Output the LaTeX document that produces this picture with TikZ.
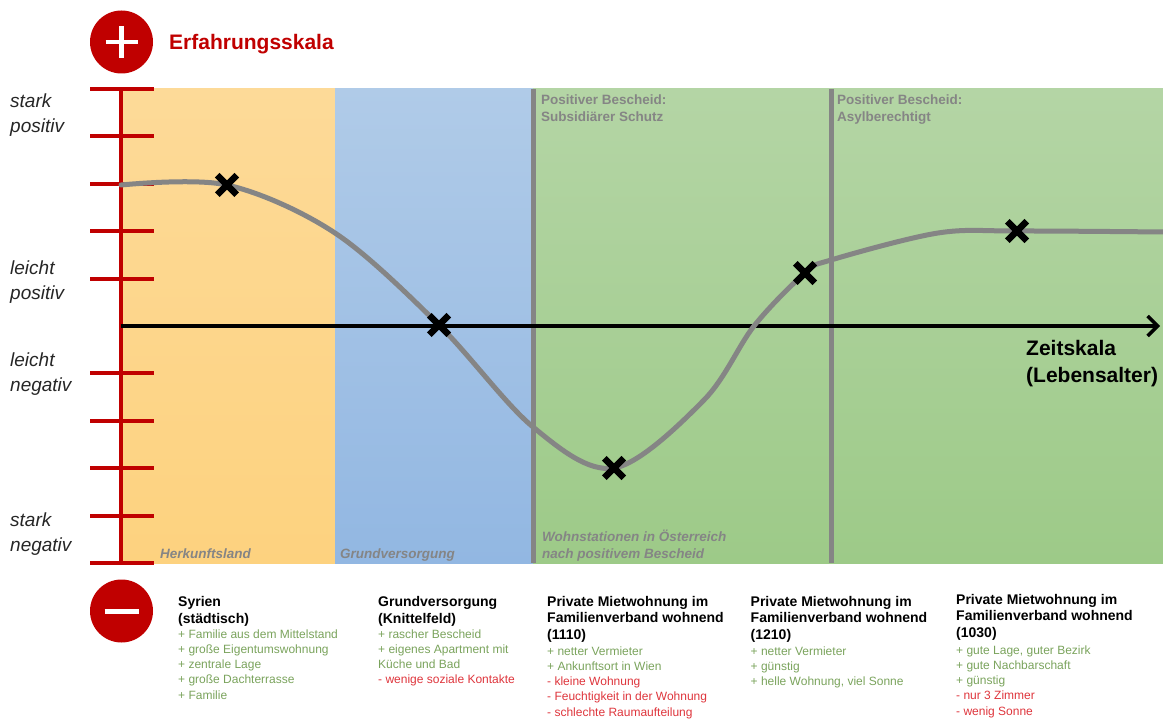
\documentclass[tikz,border=0pt]{standalone}
\usepackage{fontspec}
\setmainfont{Liberation Sans}
\usetikzlibrary{arrows.meta,shapes.misc}
\definecolor{skalared}{HTML}{C00000}
\definecolor{posgreen}{HTML}{7AA35C}
\definecolor{negred}{HTML}{DE353C}
\definecolor{linegray}{HTML}{858585}
\definecolor{labelgray}{HTML}{858585}
\begin{document}
\begin{tikzpicture}[x=1pt, y=-1pt]
		\tikzstyle{every node}=[inner sep=0pt, align=left]
		\tikzstyle{skalastrich}=[draw=skalared, line width=4pt]
		\tikzstyle{trenner}=[draw=linegray, line width=5pt]
		\tikzstyle{verlauf}=[draw=linegray, line width=5pt, line cap=round]
		\tikzstyle{kreuz}=[cross out, draw=black, line width=6.5pt, minimum size=13pt]
		\tikzstyle{phase}=[anchor=base west, text=labelgray, font=\fontsize{13.5}{17}\selectfont\bfseries]
		\tikzstyle{ort}=[anchor=base west, text=labelgray, font=\fontsize{13.5}{17}\selectfont\bfseries\itshape]
		\tikzstyle{stufe}=[anchor=base west, text=black!85, font=\fontsize{19}{25}\selectfont\itshape]
		\tikzstyle{kopf}=[anchor=base west, font=\fontsize{14}{16.7}\selectfont\bfseries]
		\tikzstyle{liste}=[anchor=base west, text=posgreen, font=\fontsize{12}{15.3}\selectfont]
		\useasboundingbox (0,0) rectangle (1163,719);
		\shade[top color={rgb,255:red,253;green,218;blue,152}, bottom color={rgb,255:red,253;green,210;blue,127}] (121,89) rectangle (335,563);
		\shade[top color={rgb,255:red,176;green,203;blue,232}, bottom color={rgb,255:red,146;green,183;blue,226}] (335,89) rectangle (533,563);
		\shade[top color={rgb,255:red,180;green,213;blue,165}, bottom color={rgb,255:red,157;green,202;blue,136}] (533,89) rectangle (1163,563);
		\draw[trenner] (533,89) -- (533,563);
		\draw[trenner] (831,89) -- (831,563);
		\node[phase] (subs) at (541,122) {Positiver Bescheid:\\Subsidiärer Schutz};
		\node[phase] (asyl) at (837,122) {Positiver Bescheid:\\Asylberechtigt};
		\node[ort] (herk) at (160,558) {Herkunftsland};
		\node[ort] (grund) at (340,558) {Grundversorgung};
		\node[ort] (wohn) at (542,558) {Wohnstationen in Österreich\\nach positivem Bescheid};
		\draw[skalastrich] (121,89) -- (121,563);
		\foreach \i in {0,1,2,3,4,6,7,8,9,10}
			\draw[skalastrich] (90,{89+47.4*\i}) -- (153.5,{89+47.4*\i});
		\node[stufe] (sp) at (10,133) {stark\\positiv};
		\node[stufe] (lp) at (10,300) {leicht\\positiv};
		\node[stufe] (ln) at (10,392) {leicht\\negativ};
		\node[stufe] (sn) at (10,551) {stark\\negativ};
		\node[circle, fill=skalared, minimum size=63pt] (plus) at (121.5,42) {};
		\draw[white, line width=4.5pt] ([xshift=-16pt]plus.center) -- ([xshift=16pt]plus.center);
		\draw[white, line width=4.5pt] ([yshift=-16pt]plus.center) -- ([yshift=16pt]plus.center);
		\node[anchor=base west, text=skalared, font=\fontsize{21}{25}\selectfont\bfseries] (skala) at (169,50) {Erfahrungsskala};
		\node[circle, fill=skalared, minimum size=63pt] (minus) at (121.5,611) {};
		\draw[white, line width=5pt] ([xshift=-17pt]minus.center) -- ([xshift=17pt]minus.center);
		\coordinate (null) at (121,326);
		\coordinate (ende) at (1160,326);
		\draw[line width=3.5pt, -{Straight Barb[length=10pt, width=20pt]}] (null) -- (ende);
		\node[anchor=base west, font=\fontsize{21}{27}\selectfont\bfseries] (zeit) at (1026,383) {Zeitskala\\(Lebensalter)};
		\coordinate (p0) at (121,185);
		\coordinate (p1) at (227,185);
		\coordinate (p2) at (335,233);
		\coordinate (p3) at (439,325);
		\coordinate (p4) at (533,427);
		\coordinate (p5) at (614,468);
		\coordinate (p6) at (704,400);
		\coordinate (p7) at (754,326);
		\coordinate (p8) at (805,273);
		\coordinate (p9) at (831,260);
		\coordinate (p10) at (938,233);
		\coordinate (p11) at (1017,231);
		\coordinate (p12) at (1163,232);
		\draw[verlauf] plot[smooth, tension=0.55] coordinates {(p0) (p1) (p2) (p3) (p4) (p5) (p6) (p7) (p8) (p9) (p10) (p11) (p12)};
		\node[kreuz] (syr) at (p1) {};
		\node[kreuz] (gv) at (p3) {};
		\node[kreuz] (w1110) at (p5) {};
		\node[kreuz] (w1210) at (p8) {};
		\node[kreuz] (w1030) at (p11) {};
		\node[kopf] (k1) at (178,623) {Syrien\\(städtisch)};
		\node[liste] (l1) at (178,699.2) {+ Familie aus dem Mittelstand\\+ große Eigentumswohnung\\+ zentrale Lage\\+ große Dachterrasse\\+ Familie};
		\node[kopf] (k2) at (378,623) {Grundversorgung\\(Knittelfeld)};
		\node[liste] (l2) at (378,683.9) {+ rascher Bescheid\\+ eigenes Apartment mit\\Küche und Bad\\{\color{negred}- wenige soziale Kontakte}};
		\node[kopf] (k3) at (547,639.4) {Private Mietwohnung im\\Familienverband wohnend\\(1110)};
		\node[liste] (l3) at (547,716.2) {+ netter Vermieter\\+ Ankunftsort in Wien\\{\color{negred}- kleine Wohnung}\\{\color{negred}- Feuchtigkeit in der Wohnung}\\{\color{negred}- schlechte Raumaufteilung}};
		\node[kopf] (k4) at (750.5,639.4) {Private Mietwohnung im\\Familienverband wohnend\\(1210)};
		\node[liste] (l4) at (750.5,685.6) {+ netter Vermieter\\+ günstig\\+ helle Wohnung, viel Sonne};
		\node[kopf] (k5) at (956,637.4) {Private Mietwohnung im\\Familienverband wohnend\\(1030)};
		\node[liste] (l5) at (956,715.2) {+ gute Lage, guter Bezirk\\+ gute Nachbarschaft\\+ günstig\\{\color{negred}- nur 3 Zimmer}\\{\color{negred}- wenig Sonne}};
\end{tikzpicture}
\end{document}
